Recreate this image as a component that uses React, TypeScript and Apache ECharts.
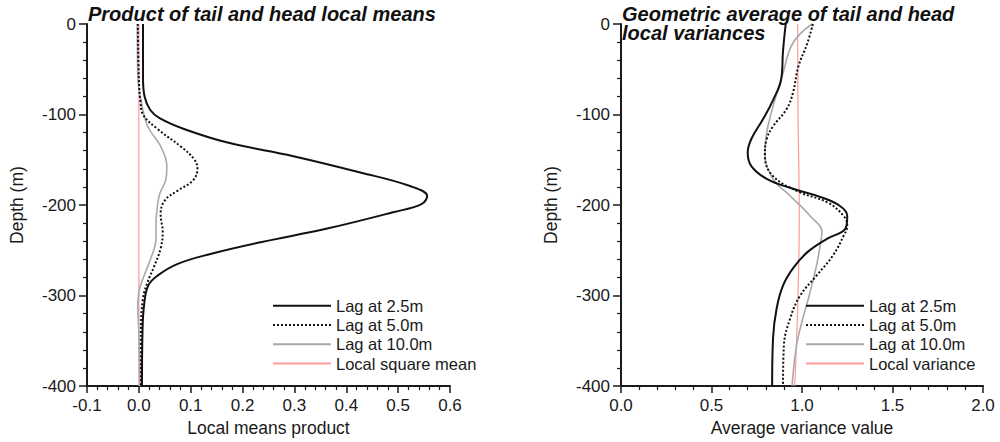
import React, { useEffect, useRef } from "react";
import * as echarts from "echarts";

// ---- Data (x = value, y = depth in m) ----
const depthTicks = [0, -100, -200, -300, -400];

const meansLag25 = [
  [0.008, 0], [0.008, -60], [0.011, -80], [0.022, -95], [0.04, -104], [0.087, -116],
  [0.171, -131], [0.298, -146], [0.427, -164], [0.523, -179], [0.556, -190], [0.545, -199],
  [0.49, -208], [0.363, -226], [0.235, -241], [0.138, -254], [0.075, -265], [0.036, -278],
  [0.018, -289], [0.01, -311], [0.007, -340], [0.006, -400],
];
const meansLag50 = [
  [-0.002, 0], [0.0, -60], [0.003, -85], [0.008, -100], [0.036, -116], [0.08, -135],
  [0.106, -149], [0.113, -160], [0.104, -173], [0.075, -184], [0.05, -195], [0.042, -210],
  [0.046, -230], [0.042, -248], [0.03, -267], [0.017, -285], [0.008, -303], [0.004, -340],
  [0.004, -400],
];
const meansLag100 = [
  [-0.003, 0], [-0.002, -60], [0.004, -84], [0.017, -113], [0.042, -135], [0.054, -157],
  [0.052, -172], [0.04, -188], [0.035, -205], [0.033, -220], [0.033, -237], [0.023, -259],
  [0.01, -278], [0.0, -296], [-0.002, -314], [0.0, -340], [0.002, -400],
];
const localSquareMean = [[0, 0], [0, -400]];

const varLag25 = [
  [0.91, 0], [0.895, -30], [0.885, -61], [0.84, -84], [0.785, -105], [0.72, -127], [0.7, -142],
  [0.72, -157], [0.805, -171], [0.95, -182], [1.1, -191], [1.21, -201], [1.25, -212],
  [1.24, -226], [1.14, -237], [1.03, -252], [0.95, -270], [0.895, -289], [0.86, -314],
  [0.84, -347], [0.835, -400],
];
const varLag50 = [
  [1.06, 0], [1.03, -21], [0.98, -47], [0.95, -76], [0.915, -94], [0.84, -113], [0.805, -127],
  [0.795, -146], [0.84, -168], [0.99, -186], [1.14, -197], [1.23, -212], [1.25, -223],
  [1.23, -234], [1.17, -256], [1.08, -278], [0.99, -300], [0.935, -325], [0.9, -355],
  [0.895, -400],
];
const varLag100 = [
  [1.055, 0], [0.95, -21], [0.89, -58], [0.84, -91], [0.805, -120], [0.795, -142],
  [0.84, -171], [0.935, -190], [1.045, -212], [1.11, -230], [1.1, -245], [1.08, -267],
  [1.045, -296], [1.005, -325], [0.97, -355], [0.945, -400],
];
const localVariance = [[0.976, 0], [0.978, -100], [0.985, -210], [0.978, -300], [0.96, -400]];

const lagNames = ["Lag at 2.5m", "Lag at 5.0m", "Lag at 10.0m"];
const leftLegendNames = [...lagNames, "Local square mean"];
const rightLegendNames = [...lagNames, "Local variance"];

const FONT = "Liberation Sans";
const INK = "#1a1a1a";

function xAxisCfg(gridIndex: number, min: number, max: number, interval: number, name: string) {
  return {
    type: "value",
    gridIndex,
    min,
    max,
    interval,
    name,
    nameLocation: "middle",
    nameGap: 31,
    nameTextStyle: { fontSize: 17.5, color: INK, fontFamily: FONT },
    axisLine: { show: true, onZero: false, lineStyle: { color: INK, width: 2 } },
    axisTick: { show: true, length: 7, lineStyle: { color: INK, width: 1.5 } },
    minorTick: { show: true, splitNumber: 5, length: 4, lineStyle: { color: INK, width: 1.2 } },
    splitLine: { show: false },
    axisLabel: {
      fontSize: 17,
      color: INK,
      fontFamily: FONT,
      margin: 11,
      formatter: (v: number) => (Math.abs(v) < 1e-9 ? 0 : v).toFixed(1),
    },
  };
}

function yAxisCfg(gridIndex: number) {
  return {
    type: "value",
    gridIndex,
    min: depthTicks[depthTicks.length - 1],
    max: depthTicks[0],
    interval: 100,
    name: "Depth (m)",
    nameLocation: "middle",
    nameGap: 61,
    nameTextStyle: { fontSize: 17.5, color: INK, fontFamily: FONT },
    axisLine: { show: true, onZero: false, lineStyle: { color: INK, width: 2 } },
    axisTick: { show: true, length: 8, lineStyle: { color: INK, width: 1.5 } },
    minorTick: { show: true, splitNumber: 5, length: 4, lineStyle: { color: INK, width: 1.2 } },
    splitLine: { show: false },
    axisLabel: {
      fontSize: 17,
      color: INK,
      fontFamily: FONT,
      margin: 11,
      formatter: (v: number) => String(Math.round(v)),
    },
  };
}

function lineSeries(name: string, data: number[][], idx: number, style: any) {
  return {
    type: "line",
    name,
    data,
    xAxisIndex: idx,
    yAxisIndex: idx,
    symbol: "none",
    smooth: 0.4,
    lineStyle: { color: style.color, width: style.width, type: style.type },
    itemStyle: { color: style.color },
    z: style.z || 2,
  };
}

const solid = { color: "#111111", width: 2, type: "solid", z: 4 };
const dotted = { color: "#111111", width: 2, type: [2, 2], z: 3 };
const gray = { color: "#a9a9a9", width: 1.6, type: "solid", z: 2 };
const pink = { color: "#ff9a9a", width: 1.2, type: "solid", z: 1 };

function legendCfg(left: number, data: string[]) {
  return {
    left,
    top: 296,
    orient: "vertical",
    padding: 0,
    itemGap: 0,
    itemWidth: 58,
    itemHeight: 14,
    selectedMode: false,
    data,
    itemStyle: { color: "transparent", borderColor: "transparent", borderWidth: 0, opacity: 0 },
    textStyle: { fontSize: 16.5, color: INK, fontFamily: FONT, lineHeight: 19.3 },
  };
}

export default function App() {
  const ref = useRef<HTMLDivElement>(null);
  useEffect(() => {
    if (!ref.current) return;
    const chart = echarts.init(ref.current, null, { renderer: "svg" });
    const titleStyle = {
      fontSize: 20,
      fontStyle: "italic",
      fontWeight: "bold",
      fontFamily: FONT,
      color: "#111",
      lineHeight: 19,
    };
    chart.setOption({
      animation: false,
      backgroundColor: "#ffffff",
      title: [
        { text: "Product of tail and head local means", left: 88, top: 4, padding: 0, textStyle: titleStyle },
        {
          text: "Geometric average of tail and head\nlocal variances",
          left: 622,
          top: 4,
          padding: 0,
          textStyle: titleStyle,
        },
      ],
      grid: [
        { left: 87, top: 24, width: 363, height: 364, containLabel: false },
        { left: 621, top: 24, width: 362, height: 364, containLabel: false },
      ],
      xAxis: [
        xAxisCfg(0, -0.1, 0.6, 0.1, "Local means product"),
        xAxisCfg(1, 0, 2, 0.5, "Average variance value"),
      ],
      yAxis: [yAxisCfg(0), yAxisCfg(1)],
      legend: [legendCfg(272, leftLegendNames), legendCfg(805, rightLegendNames)],
      series: [
        lineSeries("Local square mean", localSquareMean, 0, pink),
        lineSeries("Lag at 10.0m", meansLag100, 0, gray),
        lineSeries("Lag at 5.0m", meansLag50, 0, dotted),
        lineSeries("Lag at 2.5m", meansLag25, 0, solid),
        lineSeries("Local variance", localVariance, 1, pink),
        lineSeries("Lag at 10.0m", varLag100, 1, gray),
        lineSeries("Lag at 5.0m", varLag50, 1, dotted),
        lineSeries("Lag at 2.5m", varLag25, 1, solid),
      ],
    });
    return () => chart.dispose();
  }, []);
  return (
    <div
      ref={ref}
      style={{ position: "fixed", left: 0, top: 0, width: 1000, height: 442, background: "#fff" }}
    />
  );
}
